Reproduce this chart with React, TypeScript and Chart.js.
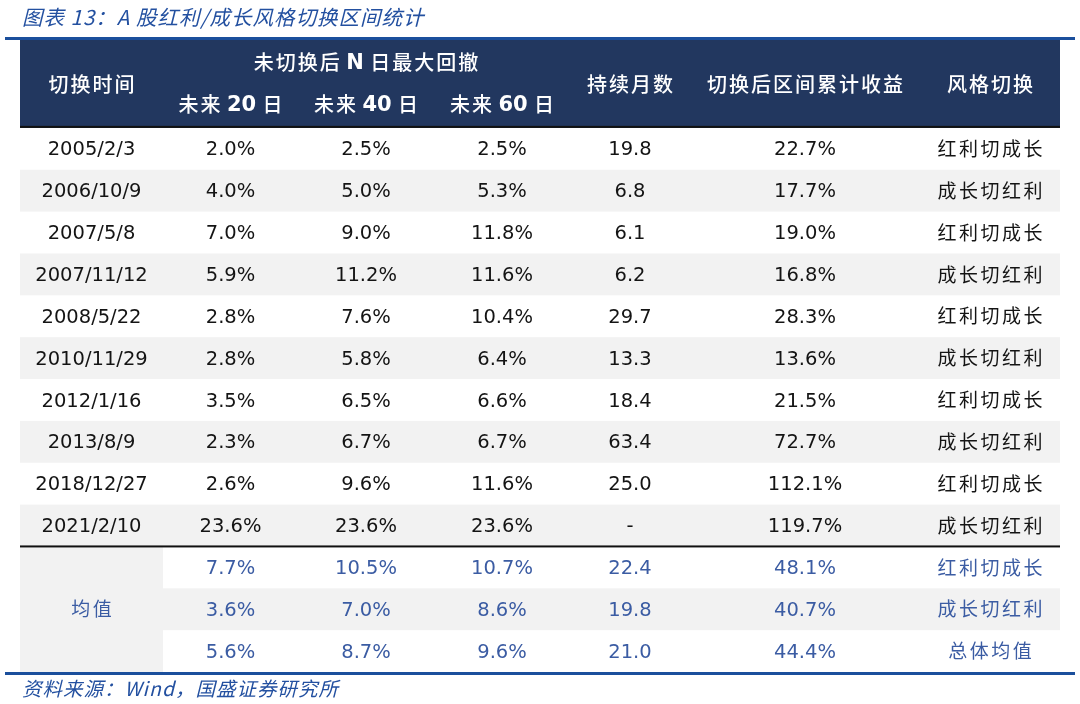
import React, { useEffect, useRef } from "react";
import { Chart, registerables } from "chart.js";

Chart.register(...registerables);

// ---------- data ----------
const titleText = "图表 13：A 股红利/成长风格切换区间统计";
const sourceText = "资料来源：Wind，国盛证券研究所";
const headerGroup = "未切换后 N 日最大回撤";
const headerMain = ["切换时间", "持续月数", "切换后区间累计收益", "风格切换"];
const headerSubDays = ["20", "40", "60"];

const switchDates = [
  "2005/2/3", "2006/10/9", "2007/5/8", "2007/11/12", "2008/5/22",
  "2010/11/29", "2012/1/16", "2013/8/9", "2018/12/27", "2021/2/10",
];
const drawdown20 = [2.0, 4.0, 7.0, 5.9, 2.8, 2.8, 3.5, 2.3, 2.6, 23.6];
const drawdown40 = [2.5, 5.0, 9.0, 11.2, 7.6, 5.8, 6.5, 6.7, 9.6, 23.6];
const drawdown60 = [2.5, 5.3, 11.8, 11.6, 10.4, 6.4, 6.6, 6.7, 11.6, 23.6];
const durationMonths: (number | null)[] = [19.8, 6.8, 6.1, 6.2, 29.7, 13.3, 18.4, 63.4, 25.0, null];
const cumulativeReturn = [22.7, 17.7, 19.0, 16.8, 28.3, 13.6, 21.5, 72.7, 112.1, 119.7];
const styleSwitch = [
  "红利切成长", "成长切红利", "红利切成长", "成长切红利", "红利切成长",
  "成长切红利", "红利切成长", "成长切红利", "红利切成长", "成长切红利",
];

const avgLabel = "均值";
const avgDrawdown20 = [7.7, 3.6, 5.6];
const avgDrawdown40 = [10.5, 7.0, 8.7];
const avgDrawdown60 = [10.7, 8.6, 9.6];
const avgMonths = [22.4, 19.8, 21.0];
const avgReturn = [48.1, 40.7, 44.4];
const avgStyle = ["红利切成长", "成长切红利", "总体均值"];

// ---------- layout (column edges in x-scale units, header height in row units) ----------
const colEdges = [0, 143, 278, 414, 550, 670, 900, 1040];
const headerRows = 2.1;

const pct = (v: number) => v.toFixed(1) + "%";
const num = (v: number | null) => (v === null ? "-" : v.toFixed(1));

const NUM_FONT = '19.5px "DejaVu Sans", Verdana, sans-serif';
const CJK_FONT = '19px "Noto Sans CJK SC", sans-serif';
const HEAD_FONT = '500 20px "Noto Sans CJK SC", sans-serif';
const HEAD_BOLD = 'bold 21px "DejaVu Sans", sans-serif';

type Part = { text: string; font: string; spacing?: number; dy?: number };

function drawRich(ctx: CanvasRenderingContext2D, parts: Part[], cx: number, cy: number, color: string) {
  ctx.save();
  ctx.fillStyle = color;
  ctx.textBaseline = "middle";
  ctx.textAlign = "left";
  const widths = parts.map((p) => {
    ctx.font = p.font;
    (ctx as any).letterSpacing = (p.spacing || 0) + "px";
    return ctx.measureText(p.text).width - (p.spacing || 0);
  });
  const total = widths.reduce((a, b) => a + b, 0);
  let x = cx - total / 2;
  parts.forEach((p, i) => {
    ctx.font = p.font;
    (ctx as any).letterSpacing = (p.spacing || 0) + "px";
    ctx.fillText(p.text, x, cy + (p.dy || 0));
    x += widths[i];
  });
  ctx.restore();
}

const tablePlugin = {
  id: "tablePlugin",
  beforeDraw(chart: any) {
    const ctx: CanvasRenderingContext2D = chart.ctx;
    const xs = chart.scales.x;
    const ys = chart.scales.y;
    const X = (v: number) => xs.getPixelForValue(v);
    const Y = (v: number) => ys.getPixelForValue(v);
    const W = chart.width;

    ctx.save();
    ctx.fillStyle = "#ffffff";
    ctx.fillRect(0, 0, chart.width, chart.height);

    // title
    ctx.fillStyle = "#2350a0";
    ctx.textBaseline = "middle";
    ctx.textAlign = "left";
    ctx.font = 'italic 20.5px "Noto Sans CJK SC", sans-serif';
    (ctx as any).letterSpacing = "1px";
    ctx.fillText(titleText, 22, 17);
    (ctx as any).letterSpacing = "0px";

    const left = X(colEdges[0]);
    const right = X(colEdges[colEdges.length - 1]);

    // title rule
    ctx.fillStyle = "#1b4f9c";
    ctx.fillRect(5, Y(-headerRows) - 3, W - 10, 3);

    // header block
    ctx.fillStyle = "#22375f";
    ctx.fillRect(left, Y(-headerRows), right - left, Y(0) - Y(-headerRows));
    ctx.fillStyle = "#111111";
    ctx.fillRect(left, Y(0) - 2, right - left, 2);

    const n = switchDates.length;
    // data rows backgrounds
    for (let i = 0; i < n; i++) {
      if (i % 2 === 1) {
        ctx.fillStyle = "#f2f2f2";
        ctx.fillRect(left, Y(i), right - left, Y(i + 1) - Y(i));
      }
    }
    // average block backgrounds
    ctx.fillStyle = "#f2f2f2";
    ctx.fillRect(left, Y(n), X(colEdges[1]) - left, Y(n + 3) - Y(n));
    ctx.fillRect(X(colEdges[1]), Y(n + 1), right - X(colEdges[1]), Y(n + 2) - Y(n + 1));

    // separator under data rows
    ctx.fillStyle = "#111111";
    ctx.fillRect(left, Y(n) - 1, right - left, 2);

    // bottom rule
    ctx.fillStyle = "#1b4f9c";
    ctx.fillRect(5, Y(n + 3), W - 10, 3);

    // source
    ctx.fillStyle = "#2350a0";
    ctx.font = 'italic 19.5px "Noto Sans CJK SC", sans-serif';
    (ctx as any).letterSpacing = "1px";
    ctx.fillText(sourceText, 22, 689);
    (ctx as any).letterSpacing = "0px";
    ctx.restore();

    const cx = (c: number) => (X(colEdges[c]) + X(colEdges[c + 1])) / 2;
    const cy = (r: number) => (Y(r) + Y(r + 1)) / 2;

    // header text
    const hTop = Y(-headerRows);
    const hBot = Y(0);
    const hMid = (hTop + hBot) / 2;
    const white = "#ffffff";
    drawRich(ctx, [{ text: headerMain[0], font: HEAD_FONT, spacing: 2 }], cx(0), hMid, white);
    drawRich(ctx, [{ text: headerMain[1], font: HEAD_FONT, spacing: 2 }], cx(4), hMid, white);
    drawRich(ctx, [{ text: headerMain[2], font: HEAD_FONT, spacing: 2 }], cx(5), hMid, white);
    drawRich(ctx, [{ text: headerMain[3], font: HEAD_FONT, spacing: 2 }], cx(6), hMid, white);
    const [g1, g2] = headerGroup.split(" N ");
    drawRich(
      ctx,
      [
        { text: g1 + " ", font: HEAD_FONT, spacing: 2 },
        { text: "N", font: HEAD_BOLD, dy: 1.5 },
        { text: " " + g2, font: HEAD_FONT, spacing: 2 },
      ],
      cx(2),
      hTop + (hBot - hTop) * 0.25,
      white
    );
    headerSubDays.forEach((d, k) => {
      drawRich(
        ctx,
        [
          { text: "未来 ", font: HEAD_FONT, spacing: 2 },
          { text: d, font: HEAD_BOLD, dy: 1.5 },
          { text: " 日", font: HEAD_FONT, spacing: 2 },
        ],
        cx(k + 1),
        hTop + (hBot - hTop) * 0.73,
        white
      );
    });

    // data rows text
    const dark = "#141414";
    const nd = 1.5; // numeric glyph optical offset
    for (let i = 0; i < n; i++) {
      const y = cy(i);
      drawRich(ctx, [{ text: switchDates[i], font: NUM_FONT, dy: nd }], cx(0), y, dark);
      drawRich(ctx, [{ text: pct(drawdown20[i]), font: NUM_FONT, dy: nd }], cx(1), y, dark);
      drawRich(ctx, [{ text: pct(drawdown40[i]), font: NUM_FONT, dy: nd }], cx(2), y, dark);
      drawRich(ctx, [{ text: pct(drawdown60[i]), font: NUM_FONT, dy: nd }], cx(3), y, dark);
      drawRich(ctx, [{ text: num(durationMonths[i]), font: NUM_FONT, dy: nd }], cx(4), y, dark);
      drawRich(ctx, [{ text: pct(cumulativeReturn[i]), font: NUM_FONT, dy: nd }], cx(5), y, dark);
      drawRich(ctx, [{ text: styleSwitch[i], font: CJK_FONT, spacing: 2.5 }], cx(6), y, dark);
    }

    // average rows text
    const blue = "#3b5ca3";
    drawRich(ctx, [{ text: avgLabel, font: CJK_FONT, spacing: 2.5 }], cx(0), (Y(n) + Y(n + 3)) / 2, blue);
    for (let k = 0; k < 3; k++) {
      const y = cy(n + k);
      drawRich(ctx, [{ text: pct(avgDrawdown20[k]), font: NUM_FONT, dy: nd }], cx(1), y, blue);
      drawRich(ctx, [{ text: pct(avgDrawdown40[k]), font: NUM_FONT, dy: nd }], cx(2), y, blue);
      drawRich(ctx, [{ text: pct(avgDrawdown60[k]), font: NUM_FONT, dy: nd }], cx(3), y, blue);
      drawRich(ctx, [{ text: num(avgMonths[k]), font: NUM_FONT, dy: nd }], cx(4), y, blue);
      drawRich(ctx, [{ text: pct(avgReturn[k]), font: NUM_FONT, dy: nd }], cx(5), y, blue);
      drawRich(ctx, [{ text: avgStyle[k], font: CJK_FONT, spacing: 2.5 }], cx(6), y, blue);
    }
  },
};

export default function App() {
  const ref = useRef<HTMLCanvasElement | null>(null);

  useEffect(() => {
    document.body.style.margin = "0";
    if (!ref.current) return;
    const totalRows = switchDates.length + avgDrawdown20.length;
    const chart = new Chart(ref.current, {
      type: "scatter",
      data: { datasets: [{ data: [] }] },
      options: {
        animation: false,
        responsive: false,
        devicePixelRatio: 1,
        layout: { padding: { left: 20, right: 20, top: 40, bottom: 32 } },
        plugins: { legend: { display: false }, tooltip: { enabled: false } },
        scales: {
          x: { type: "linear", display: false, min: colEdges[0], max: colEdges[colEdges.length - 1] },
          y: { type: "linear", display: false, reverse: true, min: -headerRows, max: totalRows },
        },
      },
      plugins: [tablePlugin],
    });
    return () => chart.destroy();
  }, []);

  return (
    <div style={{ position: "absolute", left: 0, top: 0, width: 1080, height: 704, background: "#fff" }}>
      <canvas ref={ref} width={1080} height={704} style={{ display: "block" }} />
    </div>
  );
}
